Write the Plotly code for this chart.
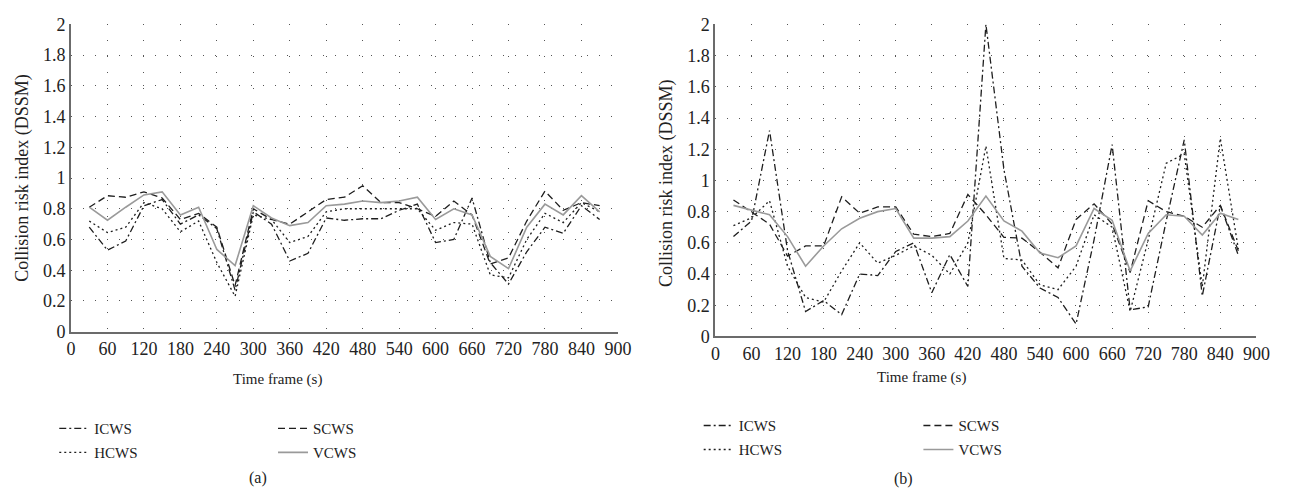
import plotly.graph_objects as go

W, H = 1296, 502

time_s = [30, 60, 90, 120, 150, 180, 210, 240, 270, 300, 330, 360, 390, 420, 450,
          480, 510, 540, 570, 600, 630, 660, 690, 720, 750, 780, 810, 840, 870]

# Panel (a)
icws_a = [0.68, 0.53, 0.59, 0.82, 0.86, 0.70, 0.76, 0.67, 0.27, 0.78, 0.70, 0.46, 0.51, 0.74, 0.725,
          0.735, 0.735, 0.79, 0.83, 0.58, 0.60, 0.87, 0.45, 0.31, 0.52, 0.68, 0.64, 0.82, 0.73]
scws_a = [0.81, 0.885, 0.875, 0.91, 0.87, 0.73, 0.77, 0.68, 0.30, 0.80, 0.73, 0.70, 0.78, 0.86, 0.875,
          0.95, 0.84, 0.84, 0.80, 0.75, 0.85, 0.76, 0.44, 0.48, 0.72, 0.915, 0.79, 0.84, 0.82]
hcws_a = [0.72, 0.645, 0.68, 0.84, 0.80, 0.65, 0.72, 0.45, 0.23, 0.76, 0.73, 0.58, 0.62, 0.78, 0.80,
          0.80, 0.80, 0.80, 0.80, 0.66, 0.71, 0.70, 0.37, 0.35, 0.60, 0.77, 0.71, 0.84, 0.78]
vcws_a = [0.81, 0.725, 0.81, 0.89, 0.91, 0.76, 0.81, 0.535, 0.43, 0.82, 0.74, 0.69, 0.71, 0.82, 0.83,
          0.85, 0.84, 0.85, 0.875, 0.73, 0.80, 0.76, 0.49, 0.41, 0.68, 0.83, 0.76, 0.885, 0.78]

# Panel (b)
icws_b = [0.64, 0.74, 1.32, 0.55, 0.16, 0.23, 0.14, 0.40, 0.39, 0.545, 0.60, 0.28, 0.525, 0.32, 2.0,
          1.07, 0.45, 0.31, 0.25, 0.08, 0.62, 1.23, 0.17, 0.19, 0.74, 1.26, 0.26, 0.84, 0.52]
scws_b = [0.875, 0.80, 0.72, 0.515, 0.58, 0.58, 0.895, 0.79, 0.83, 0.83, 0.655, 0.64, 0.66, 0.91, 0.78,
          0.635, 0.63, 0.54, 0.44, 0.75, 0.85, 0.72, 0.41, 0.87, 0.80, 0.77, 0.70, 0.84, 0.55]
hcws_b = [0.71, 0.76, 0.87, 0.45, 0.25, 0.22, 0.42, 0.60, 0.47, 0.52, 0.58, 0.52, 0.40, 0.60, 1.22,
          0.50, 0.49, 0.33, 0.30, 0.45, 0.78, 0.70, 0.16, 0.62, 1.11, 1.17, 0.32, 1.27, 0.56]
vcws_b = [0.84, 0.81, 0.78, 0.64, 0.45, 0.58, 0.69, 0.757, 0.80, 0.82, 0.63, 0.63, 0.64, 0.74, 0.90,
          0.74, 0.675, 0.535, 0.505, 0.58, 0.82, 0.745, 0.42, 0.66, 0.78, 0.77, 0.65, 0.79, 0.75]

series_names = ["ICWS", "SCWS", "HCWS", "VCWS"]
x_ticks = list(range(0, 901, 60))
y_ticks = [0, 0.2, 0.4, 0.6, 0.8, 1, 1.2, 1.4, 1.6, 1.8, 2]
y_tick_text = ["0", "0.2", "0.4", "0.6", "0.8", "1", "1.2", "1.4", "1.6", "1.8", "2"]

styles = {
    "ICWS": dict(color="#1e1e1e", width=1.3, dash="7px,3px,2px,3px"),
    "SCWS": dict(color="#1e1e1e", width=1.3, dash="7px,4px"),
    "HCWS": dict(color="#1e1e1e", width=1.3, dash="2px,3px"),
    "VCWS": dict(color="#9a9a9a", width=1.6, dash="solid"),
}

FONT = "Liberation Serif, Times New Roman, serif"
TXT = "#222222"

def px2x(px):
    return px / W

def py2y(py):
    return 1 - py / H

fig = go.Figure()

panels = [
    ("x", "y", [icws_a, scws_a, hcws_a, vcws_a], 0),
    ("x2", "y2", [icws_b, scws_b, hcws_b, vcws_b], 4),
]
for xa, ya, data, loff in panels:
    for i, (name, vals) in enumerate(zip(series_names, data)):
        lg = "legend" if loff + i == 0 else f"legend{loff + i + 1}"
        fig.add_trace(go.Scatter(
            x=time_s, y=vals, mode="lines", name=name,
            line=styles[name], xaxis=xa, yaxis=ya,
            legend=lg, showlegend=True, hoverinfo="skip",
        ))

axis_common = dict(
    showline=True, linecolor="#6b6b6b", linewidth=2, ticks="",
    tickfont=dict(family=FONT, size=18, color=TXT),
    showgrid=True, gridcolor="#555555", gridwidth=1.2, zeroline=False,
)

fig.update_layout(
    width=W, height=H,
    margin=dict(l=0, r=0, t=0, b=0),
    paper_bgcolor="white", plot_bgcolor="white",
    xaxis=dict(domain=[px2x(67), px2x(622)], range=[0, 900], tickvals=x_ticks,
               griddash="1px,15px", anchor="y", **axis_common),
    yaxis=dict(domain=[py2y(335), py2y(15)], range=[0, 2], tickvals=y_ticks,
               ticktext=y_tick_text, griddash="1px,11px", anchor="x", **axis_common),
    xaxis2=dict(domain=[px2x(721), px2x(1270)], range=[0, 900], tickvals=x_ticks,
                griddash="1px,15px", anchor="y2", **axis_common),
    yaxis2=dict(domain=[py2y(340), py2y(15)], range=[0, 2], tickvals=y_ticks,
                ticktext=y_tick_text, griddash="1px,11px", anchor="x2", **axis_common),
)

# legends: positions (text start px, row center py)
legend_pos = [
    (93, 436), (315, 436), (93, 461), (315, 461),      # panel a: ICWS, SCWS, HCWS, VCWS
    (747, 433), (970, 433), (747, 458), (970, 458),    # panel b
]
for k, (tx, ty) in enumerate(legend_pos):
    key = "legend" if k == 0 else f"legend{k + 1}"
    fig.update_layout({key: dict(
        x=px2x(tx - 43), y=py2y(ty), xanchor="left", yanchor="middle",
        bgcolor="rgba(0,0,0,0)", borderwidth=0,
        font=dict(family=FONT, size=15, color=TXT),
        itemwidth=30,
    )})

annots = [
    ("Time frame (s)", 277, 385, 15, 0),
    ("Time frame (s)", 930, 383, 15, 0),
    ("Collision risk index (DSSM)", 17, 175, 18, -90),
    ("Collision risk index (DSSM)", 672, 180, 18, -90),
    ("(a)", 257, 487, 16, 0),
    ("(b)", 912, 488, 16, 0),
]
for text, ax_, ay_, size, ang in annots:
    fig.add_annotation(text=text, x=px2x(ax_), y=py2y(ay_), xref="paper", yref="paper",
                       xanchor="center", yanchor="middle", showarrow=False, textangle=ang,
                       font=dict(family=FONT, size=size, color=TXT))

fig.write_html("out.html")
